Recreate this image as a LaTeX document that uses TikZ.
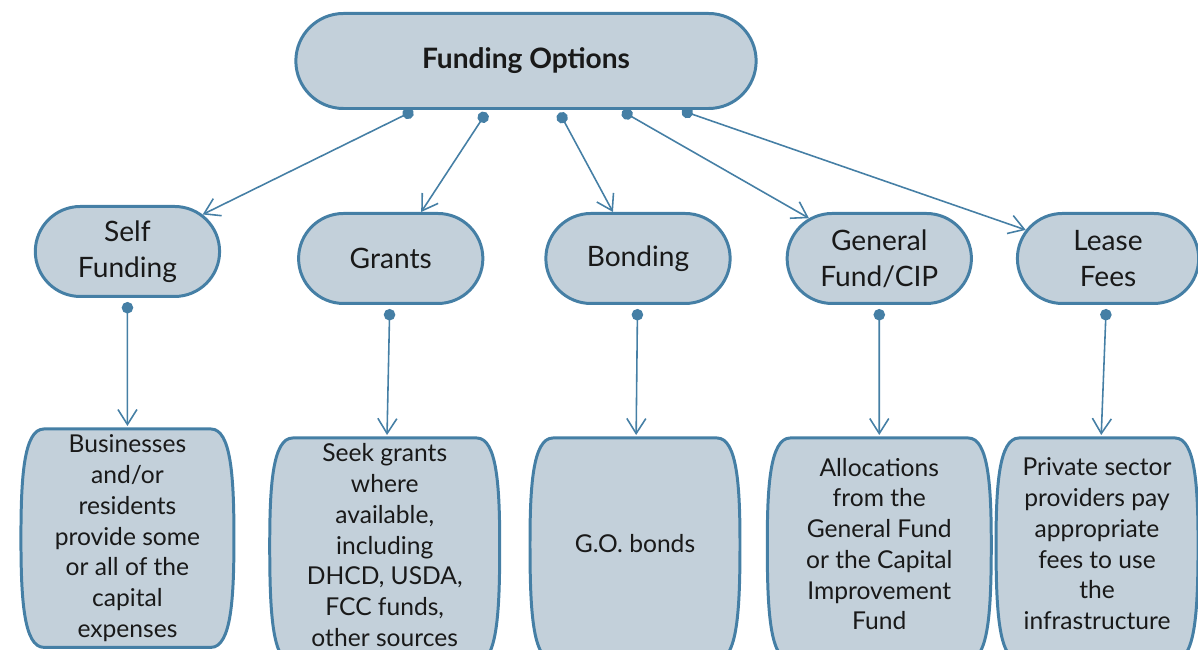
\documentclass[tikz,border=0pt]{standalone}
\usepackage{fontspec}
\setmainfont{Lato}
\usetikzlibrary{arrows.meta,positioning,shapes.misc,backgrounds}

\definecolor{boxfill}{RGB}{195,208,218}
\definecolor{boxline}{RGB}{69,127,165}
\definecolor{txt}{RGB}{25,25,25}

% barrel outline round a detail node, #2 = extra depth at the bottom
\newcommand\barrel[2]{%
  \draw[boxline, fill=boxfill, line width=1.7pt]
    ([xshift=.46cm]#1.north west) -- ([xshift=-.46cm]#1.north east)
    .. controls ([xshift=-.05cm]#1.north east) and ([yshift=-1cm]#1.north east) .. (#1.east)
    .. controls ([yshift=1cm-#2]#1.south east) and ([xshift=-.05cm,yshift=-#2]#1.south east) .. ([xshift=-.46cm,yshift=-#2]#1.south east)
    -- ([xshift=.46cm,yshift=-#2]#1.south west)
    .. controls ([xshift=.05cm,yshift=-#2]#1.south west) and ([yshift=1cm-#2]#1.south west) .. (#1.west)
    .. controls ([yshift=-1cm]#1.north west) and ([xshift=.05cm]#1.north west) .. cycle;}

\begin{document}
\begin{tikzpicture}[node distance=.3cm,
  root/.style={rounded rectangle, draw=boxline, fill=boxfill, line width=1.7pt,
    minimum width=9.44cm, minimum height=1.9cm, text=txt,
    font=\bfseries\fontsize{16}{20}\selectfont},
  option/.style={rounded rectangle, draw=boxline, fill=boxfill, line width=1.7pt,
    minimum width=3.92cm, minimum height=1.8cm, align=center, text=txt,
    font=\fontsize{16}{20.5}\selectfont},
  detail/.style={rectangle, outer sep=0pt, minimum height=4.24cm, align=center,
    text=txt, font=\fontsize{14}{17.5}\selectfont},
  link/.style={draw=boxline, line width=.9pt,
    {Circle[length=.23cm]}-{Straight Barb[length=.3cm,width=.38cm]}}]

\useasboundingbox (-10.52,1.22) rectangle (13.44,-11.78);

\node[root] (fund) at (0,0) {Funding Options};

\node[option, below =2.04cm of fund, xshift=2.24cm] (bonding) {Bonding};
\node[option, left =1.2cm of bonding] (grants) {Grants};
\node[option, left =1.52cm of grants, yshift=.14cm] (self) {Self\\Funding};
\node[option, right =1.08cm of bonding] (general) {General\\Fund/CIP};
\node[option, right =.86cm of general, minimum width=3.86cm] (lease) {Lease\\Fees};

\draw [link, shorten <=.04cm] ([xshift=-2.22cm]fund.south) to (self);
\draw [link, shorten <=.06cm] ([xshift=-.76cm]fund.south) to (grants);
\draw [link, shorten <=.06cm] ([xshift=.64cm]fund.south) to (bonding);
\draw [link, shorten <=.05cm] ([xshift=1.88cm]fund.south) to (general);
\draw [link, shorten <=.04cm] ([xshift=3.08cm]fund.south) to (lease);

\node[detail, minimum width=4.26cm, minimum height=4.36cm, below =2.62cm of self] (selfd)
  {Businesses\\and/or\\residents\\provide some\\or all of the\\capital\\expenses};
\node[detail, minimum width=4.6cm, below =2.66cm of grants, xshift=-.12cm] (grantsd)
  {Seek grants\\where\\available,\\including\\DHCD, USDA,\\FCC funds,\\other sources};
\node[detail, minimum width=4.2cm, below =2.66cm of bonding, xshift=-.06cm] (bondingd)
  {G.O. bonds};
\node[detail, minimum width=4.48cm, below =2.66cm of general] (generald)
  {Allocations\\from the\\General Fund\\or the Capital\\Improvement\\Fund};
\node[detail, minimum width=4.04cm, below =2.66cm of lease, xshift=-.22cm] (leased)
  {Private sector\\providers pay\\appropriate\\fees to use\\the\\infrastructure};

\begin{scope}[on background layer]
\barrel{selfd}{0cm}
\barrel{grantsd}{.2cm}
\barrel{bondingd}{.2cm}
\barrel{generald}{.2cm}
\barrel{leased}{.2cm}
\end{scope}

\draw [link, shorten <=.08cm, shorten >=.06cm] (self) to (selfd);
\draw [link, shorten <=.08cm, shorten >=.06cm] (grants) to (grantsd);
\draw [link, shorten <=.08cm, shorten >=.06cm] (bonding) to (bondingd);
\draw [link, shorten <=.08cm, shorten >=.06cm] (general) to (generald);
\draw [link, shorten <=.08cm, shorten >=.06cm] (lease) to (leased);

\end{tikzpicture}
\end{document}
